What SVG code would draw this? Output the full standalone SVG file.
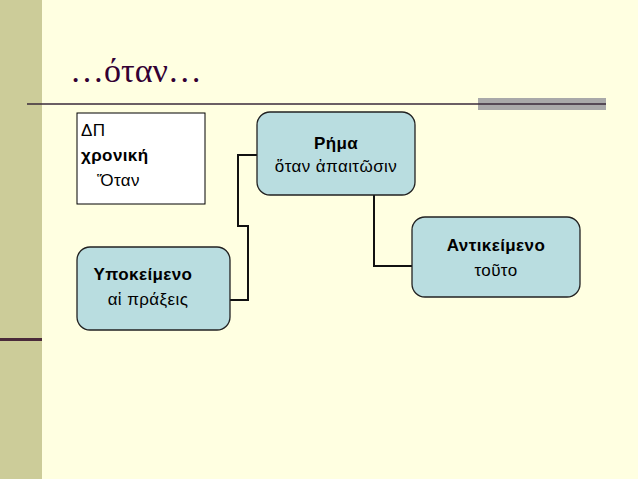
<svg xmlns="http://www.w3.org/2000/svg" width="638" height="479" viewBox="0 0 638 479">
<style>
.n{fill:#b9dde0;stroke:#222;stroke-width:1.3}
text{font-family:"Liberation Sans",Arial,sans-serif;font-size:17px;fill:#000;letter-spacing:0.4px}
.b{font-weight:bold}
.c{text-anchor:middle}
.k{fill:none;stroke:#111;stroke-width:2}
</style>
<rect width="638" height="479" fill="#ffffe1"/>
<rect width="42" height="479" fill="#cccc99"/>
<rect x="0" y="338" width="42" height="3" fill="#4a2a3a"/>
<text x="70" y="82" style="font-family:'Liberation Serif',serif;font-size:34px;fill:#330033;letter-spacing:0">…όταν…</text>
<rect x="478" y="98" width="128" height="12" fill="#a9a9a9"/>
<line x1="27" y1="104" x2="606" y2="104" stroke="#3a2a3a" stroke-width="1.5"/>
<g id="dp"><rect x="77" y="113" width="128" height="91" fill="#fff" stroke="#000" stroke-width="1"/>
<text x="81" y="136">ΔΠ</text><text x="81" y="161" class="b">χρονική</text><text x="97" y="186">Ὅταν</text></g>
<g id="conn">
<polyline class="k" points="257,155 238,155 238,226 248,226 248,300 230,300"/>
<polyline class="k" points="374,195 374,266 412,266"/>
</g>
<g id="rima"><rect class="n" x="257" y="112" width="158" height="83" rx="13"/>
<text x="336" y="149" class="c b">Ρήμα</text><text x="336" y="172" class="c">ὅταν ἀπαιτῶσιν</text></g>
<g id="ypok"><rect class="n" x="77" y="247" width="153" height="83" rx="13"/>
<text x="143" y="280" class="c b">Υποκείμενο</text><text x="148" y="305" class="c">αἱ πράξεις</text></g>
<g id="ant"><rect class="n" x="412" y="217" width="168" height="80" rx="13"/>
<text x="496" y="251" class="c b">Αντικείμενο</text><text x="496" y="276" class="c">τοῦτο</text></g>
</svg>
